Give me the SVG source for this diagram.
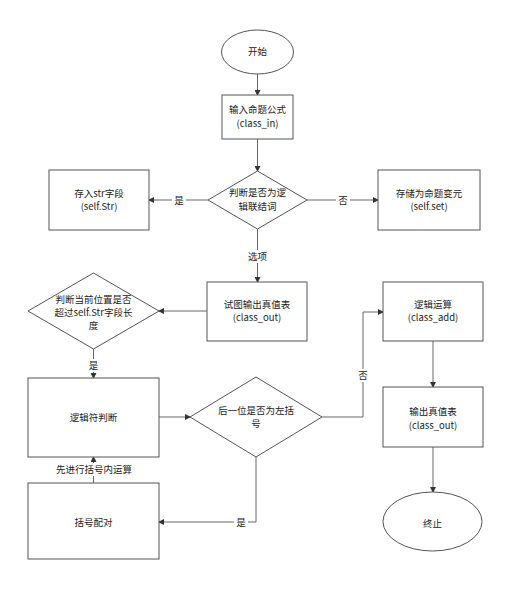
<svg xmlns="http://www.w3.org/2000/svg" width="510" height="589" viewBox="0 0 510 589">
<defs>
<marker id="arr" markerWidth="6" markerHeight="6" refX="5" refY="3" orient="auto" markerUnits="userSpaceOnUse">
<path d="M0,0 L6,3 L0,6 Z" fill="#333"/>
</marker>
<style>
.s{fill:#fff;stroke:#555;stroke-width:1}
.t{font-family:"Noto Sans CJK SC","Liberation Sans",sans-serif;font-size:9.5px;fill:#222;text-anchor:middle}
.c{fill:none;stroke:#666;stroke-width:1;marker-end:url(#arr)}
.l{fill:#fff;stroke:none}
</style>
</defs>
<rect width="510" height="589" fill="#fff"/>
<g id="connectors">
<path class="c" d="M257.5,73 V95"/>
<path class="c" d="M257.5,139 V171"/>
<path class="c" d="M208,200 H149"/>
<path class="c" d="M307,200 H378"/>
<path class="c" d="M257.5,229 V282"/>
<path class="c" d="M207,311 H159"/>
<path class="c" d="M93.5,349 V378"/>
<path class="c" d="M159,417 H190"/>
<path class="c" d="M322,417 H363 V312 H383"/>
<path class="c" d="M433,341 V387"/>
<path class="c" d="M433,447 V492"/>
<path class="c" d="M256,457 V522 H159"/>
<path class="c" d="M93.5,483 V457"/>
<rect class="l" x="172" y="193" width="14" height="13"/>
<text class="t" x="179" y="203.5">是</text>
<rect class="l" x="336" y="193" width="14" height="13"/>
<text class="t" x="343" y="203.5">否</text>
<rect class="l" x="246" y="250" width="24" height="13"/>
<text class="t" x="257.5" y="260">选项</text>
<rect class="l" x="87" y="359" width="14" height="13"/>
<text class="t" x="93.5" y="369">是</text>
<rect class="l" x="356" y="369" width="14" height="13"/>
<text class="t" x="363" y="379">否</text>
<rect class="l" x="234" y="516" width="14" height="13"/>
<text class="t" x="241" y="526">是</text>
<rect class="l" x="52" y="463" width="84" height="13"/>
<text class="t" x="94" y="473">先进行括号内运算</text>
</g>
<g id="start">
<ellipse class="s" cx="257.5" cy="52" rx="36" ry="22"/>
<text class="t" x="257.5" y="55">开始</text>
</g>
<g id="input">
<rect class="s" x="222" y="95" width="71" height="44"/>
<text class="t" x="257.5" y="113">输入命题公式</text>
<text class="t" x="257.5" y="127">(class_in)</text>
</g>
<g id="judge1">
<polygon class="s" points="257.5,171 307,200 257.5,229 208,200"/>
<text class="t" x="257.5" y="196">判断是否为逻</text>
<text class="t" x="257.5" y="210">辑联结词</text>
</g>
<g id="storeStr">
<rect class="s" x="49" y="170" width="100" height="60"/>
<text class="t" x="99" y="197">存入str字段</text>
<text class="t" x="99" y="210">(self.Str)</text>
</g>
<g id="storeSet">
<rect class="s" x="378" y="170" width="102" height="60"/>
<text class="t" x="429" y="197">存储为命题变元</text>
<text class="t" x="429" y="210">(self.set)</text>
</g>
<g id="tryOut">
<rect class="s" x="207" y="282" width="100" height="59"/>
<text class="t" x="257" y="308">试图输出真值表</text>
<text class="t" x="257" y="321">(class_out)</text>
</g>
<g id="judge2">
<polygon class="s" points="93.5,273 159,311 93.5,349 28,311"/>
<text class="t" x="93.5" y="303">判断当前位置是否</text>
<text class="t" x="93.5" y="316">超过self.Str字段长</text>
<text class="t" x="93.5" y="329">度</text>
</g>
<g id="logicJudge">
<rect class="s" x="28" y="378" width="131" height="79"/>
<text class="t" x="93.5" y="421">逻辑符判断</text>
</g>
<g id="judge3">
<polygon class="s" points="256,377 322,417 256,457 190,417"/>
<text class="t" x="256" y="414">后一位是否为左括</text>
<text class="t" x="256" y="427">号</text>
</g>
<g id="logicOp">
<rect class="s" x="383" y="282" width="100" height="59"/>
<text class="t" x="433" y="308">逻辑运算</text>
<text class="t" x="433" y="321">(class_add)</text>
</g>
<g id="output">
<rect class="s" x="383" y="387" width="100" height="60"/>
<text class="t" x="433" y="415">输出真值表</text>
<text class="t" x="433" y="429">(class_out)</text>
</g>
<g id="end">
<ellipse class="s" cx="432.5" cy="521.5" rx="49.5" ry="29.5"/>
<text class="t" x="432.5" y="527">终止</text>
</g>
<g id="bracket">
<rect class="s" x="28" y="483" width="131" height="76"/>
<text class="t" x="93.5" y="526">括号配对</text>
</g>
</svg>
